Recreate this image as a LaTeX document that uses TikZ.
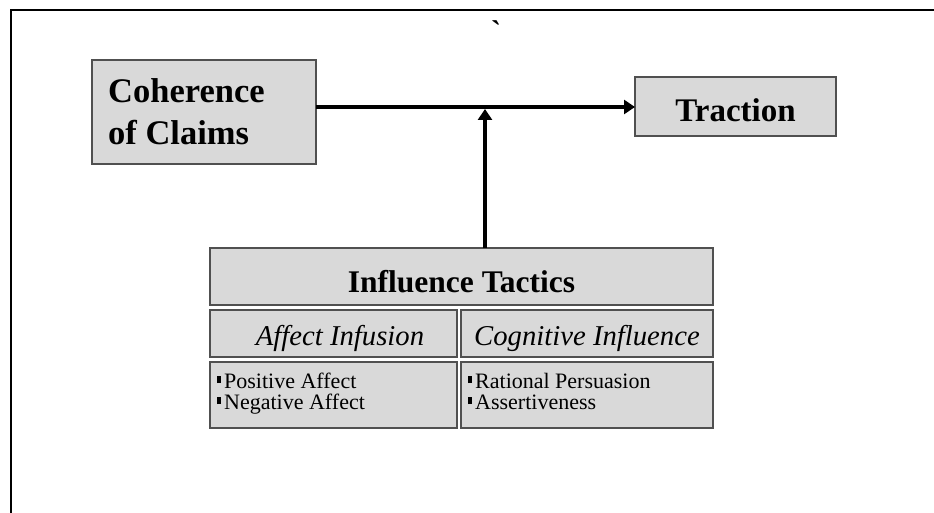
\documentclass[tikz,border=0pt]{standalone}
\usepackage{fontspec}
\setmainfont{Liberation Serif}
\usetikzlibrary{arrows.meta}
\definecolor{boxfill}{HTML}{D9D9D9}
\definecolor{boxline}{HTML}{505050}
\tikzset{
  gbox/.style={draw=boxline, line width=1.1pt, fill=boxfill, inner sep=0pt},
  conn/.style={line width=3.5pt, -{Triangle[length=11pt,width=14pt]}},
  bul/.style={anchor=base west, inner sep=0pt, font=\fontsize{22}{21}\selectfont},
}
\newcommand{\sqbul}{\rule[5pt]{4pt}{7.5pt}\hspace{3pt}}
\begin{document}
\begin{tikzpicture}[x=1pt,y=-1pt]
\useasboundingbox (0,0) rectangle (934,513);
% frame
\draw[line width=2.5pt] (11,513) -- (11,10) -- (934,10);
\node[inner sep=0pt, font=\fontsize{30}{30}\selectfont\bfseries] (tick) at (496,31) {\textasciigrave};
% boxes
\path[gbox] (92,60) rectangle (316,164);
\coordinate (cohE) at (316,107);
\node[anchor=base west, inner sep=0pt, font=\fontsize{34.5}{42}\selectfont\bfseries] (coh1) at (108,103) {Coherence};
\node[anchor=base west, inner sep=0pt, font=\fontsize{34.5}{42}\selectfont\bfseries] (coh2) at (108,145) {of Claims};

\path[gbox] (635,77) rectangle (836,136);
\coordinate (traW) at (635,107);
\node[anchor=base, inner sep=0pt, font=\fontsize{33}{33}\selectfont\bfseries] (tra) at (735.5,122) {Traction};

\path[gbox] (210,248) rectangle (713,305);
\coordinate (infN) at (485,248);
\node[anchor=base, inner sep=0pt, font=\fontsize{31.5}{31.5}\selectfont\bfseries] (inf) at (461.5,292) {Influence Tactics};

\path[gbox] (210,310) rectangle (457,357);
\node[anchor=base, inner sep=0pt, font=\fontsize{28.7}{28.7}\selectfont\itshape] (aff) at (340,345) {Affect Infusion};
\path[gbox] (461,310) rectangle (713,357);
\node[anchor=base, inner sep=0pt, font=\fontsize{28.7}{28.7}\selectfont\itshape] (cog) at (587,345) {Cognitive Influence};

\path[gbox] (210,362) rectangle (457,428);
\node[bul] (pa) at (217,388) {\sqbul Positive Affect};
\node[bul] (na) at (217,409) {\sqbul Negative Affect};
\path[gbox] (461,362) rectangle (713,428);
\node[bul] (rp) at (468,388) {\sqbul Rational Persuasion};
\node[bul] (as) at (468,409) {\sqbul Assertiveness};

% connectors
\draw[conn] (cohE) -- (traW);
\coordinate (junc) at (485,109);
\draw[conn] (infN) -- (junc);
\end{tikzpicture}
\end{document}
